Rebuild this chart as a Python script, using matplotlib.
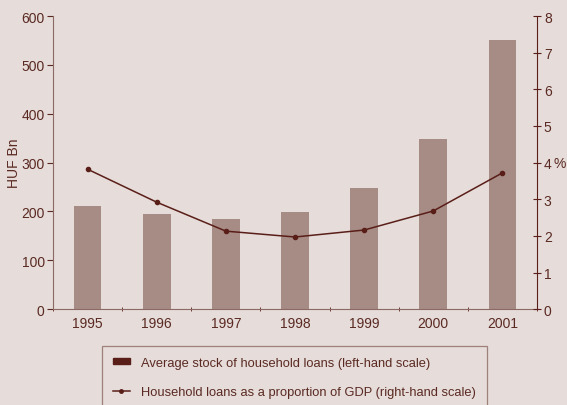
import matplotlib
matplotlib.use("Agg")
import matplotlib.pyplot as plt
import numpy as np
from matplotlib.lines import Line2D
from matplotlib.patches import Patch

years = ["1995", "1996", "1997", "1998", "1999", "2000", "2001"]
loans = [211, 195, 185, 199, 248, 349, 552]
gdp_share = [3.82, 2.92, 2.13, 1.97, 2.16, 2.68, 3.72]

bg = "#E6DCDA"
bar_c = "#A78B85"
dark = "#5A1E18"
text_c = "#5A2A22"

plt.rcParams['font.family'] = ['Liberation Sans Narrow', 'Liberation Sans', 'DejaVu Sans']

fig = plt.figure(figsize=(5.67, 4.06), dpi=100, facecolor=bg)
ax = fig.add_axes([0.0935, 0.236, 0.8535, 0.722], facecolor=bg)
x = np.arange(len(years))
ax.bar(x, loans, width=0.4, color=bar_c, zorder=2)
ax.set_xlim(-0.5, len(years) - 0.5)
ax.set_ylim(0, 600)
ax.set_yticks(range(0, 601, 100))
ax.set_xticks(x)
ax.set_xticklabels(years)
ax.set_xticks(np.arange(-0.5, len(years)), minor=True)
ax.tick_params(axis='x', which='major', length=0, pad=5, labelsize=10, labelcolor=text_c)
ax.tick_params(axis='x', which='minor', length=3, direction='inout', color=dark)
ax.tick_params(axis='y', length=4, direction='out', color=text_c, labelsize=10, labelcolor=text_c, pad=2)
for s in ['top', 'right']:
    ax.spines[s].set_visible(False)
ax.spines['left'].set_color("#8C6A64")
ax.spines['bottom'].set_color("#8C6A64")
ax.set_ylabel("HUF Bn", color=text_c, fontsize=10, labelpad=0)

ax2 = ax.twinx()
ax2.plot(x, gdp_share, color=dark, lw=1.1, marker='o', ms=3, zorder=3)
ax2.set_ylim(0, 8)
ax2.set_yticks(range(0, 9))
ax2.tick_params(axis='y', length=6, direction='inout', color=dark, labelsize=10, labelcolor=text_c, pad=2)
for s in ['top', 'left', 'bottom']:
    ax2.spines[s].set_visible(False)
ax2.spines['right'].set_color(dark)
ax2.set_ylabel("%", color=text_c, fontsize=10, rotation=0, labelpad=6, va='center')

handles = [Patch(facecolor=dark, edgecolor=dark),
           Line2D([0], [0], color=dark, lw=1.1, marker='o', ms=2.5)]
labels = ["Average stock of household loans (left-hand scale)",
          "Household loans as a proportion of GDP (right-hand scale)"]
leg = fig.legend(handles, labels, loc='upper left', bbox_to_anchor=(102/567, 1 - 347/406),
                 frameon=True, fancybox=False, fontsize=9.3, labelcolor=text_c,
                 handlelength=1.3, handleheight=0.35, borderpad=0.85, labelspacing=1.3,
                 handletextpad=0.9, borderaxespad=0)
leg.get_frame().set_facecolor(bg)
leg.get_frame().set_edgecolor("#8C6A64")
leg.get_frame().set_linewidth(0.9)

fig.savefig("out.png", dpi=100, facecolor=bg)
